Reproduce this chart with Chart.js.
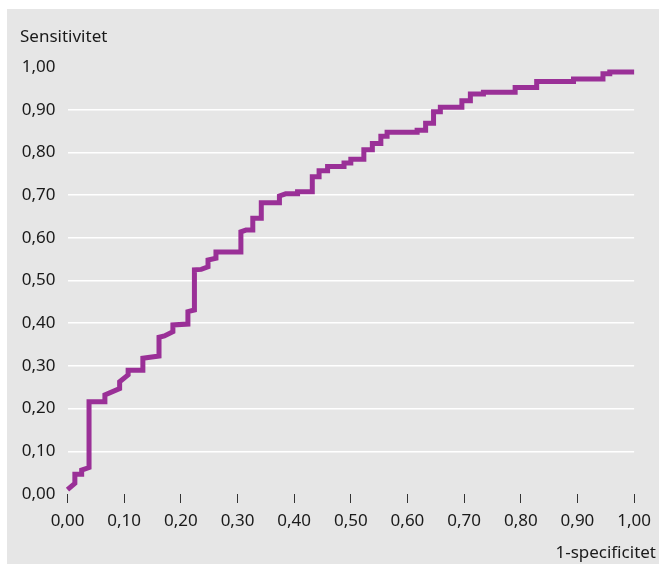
<!DOCTYPE html>
<html>
<head>
<meta charset="utf-8">
<script src="https://cdn.jsdelivr.net/npm/chart.js@4/dist/chart.umd.min.js"></script>
<style>
html,body{margin:0;padding:0;background:#fff;}
canvas{display:block;}
</style>
</head>
<body>
<canvas id="c" width="659" height="564"></canvas>
<script>
// 1-specificitet (false positive rate) and sensitivitet (true positive rate)
const fpr = [0.000,0.013,0.013,0.025,0.025,0.038,0.038,0.066,0.066,0.092,0.092,0.107,0.107,0.133,0.133,0.1615,0.1615,0.171,0.186,0.186,0.2125,0.2125,0.224,0.224,0.236,0.248,0.248,0.262,0.262,0.306,0.306,0.315,0.327,0.327,0.342,0.342,0.374,0.374,0.385,0.406,0.406,0.432,0.432,0.444,0.444,0.459,0.459,0.488,0.488,0.500,0.500,0.523,0.523,0.538,0.538,0.553,0.553,0.564,0.564,0.617,0.617,0.632,0.632,0.646,0.646,0.658,0.658,0.696,0.696,0.711,0.711,0.734,0.734,0.790,0.790,0.828,0.828,0.893,0.893,0.945,0.945,0.957,0.957,1.000];
const tpr = [0.010,0.025,0.046,0.046,0.056,0.062,0.216,0.216,0.232,0.247,0.263,0.279,0.290,0.290,0.318,0.323,0.367,0.370,0.380,0.396,0.398,0.427,0.431,0.525,0.526,0.532,0.548,0.552,0.567,0.567,0.614,0.618,0.618,0.646,0.646,0.682,0.682,0.698,0.703,0.703,0.708,0.708,0.743,0.743,0.757,0.757,0.767,0.767,0.775,0.775,0.784,0.784,0.806,0.806,0.821,0.821,0.838,0.838,0.847,0.847,0.852,0.852,0.868,0.868,0.895,0.895,0.906,0.906,0.921,0.921,0.937,0.937,0.941,0.941,0.952,0.952,0.966,0.966,0.972,0.972,0.984,0.984,0.988,0.988];
const yTitle = 'Sensitivitet';
const xTitle = '1-specificitet';
const axisMin = 0, axisMax = 1, axisStep = 0.1;

const points = fpr.map((x, i) => ({x: x, y: tpr[i]}));
const FONT = '"Noto Sans", sans-serif';
const fmt = v => Number(v).toFixed(2).replace('.', ',');

const bgPlugin = {
  id: 'bg',
  beforeDraw(chart) {
    const ctx = chart.ctx;
    ctx.save();
    ctx.fillStyle = '#e6e6e6';
    ctx.fillRect(7, 9, chart.width - 7, chart.height - 9);
    ctx.restore();
  },
  afterDraw(chart) {
    const ctx = chart.ctx;
    ctx.save();
    ctx.fillStyle = '#1a1a1a';
    ctx.font = '17px ' + FONT;
    ctx.textBaseline = 'alphabetic';
    ctx.textAlign = 'left';
    ctx.fillText(yTitle, 20, 41.5);
    ctx.textAlign = 'right';
    ctx.fillText(xTitle, 656, 558);
    ctx.restore();
  }
};

new Chart(document.getElementById('c'), {
  type: 'scatter',
  data: {
    datasets: [{
      data: points,
      showLine: true,
      borderColor: '#9a3097',
      backgroundColor: '#9a3097',
      borderWidth: 5,
      pointRadius: 0,
      pointHoverRadius: 0,
      tension: 0,
      borderJoinStyle: 'miter',
      borderCapStyle: 'butt',
      clip: false
    }]
  },
  options: {
    responsive: false,
    animation: false,
    events: [],
    layout: {padding: {left: 0, top: 67, right: 23, bottom: 0}},
    plugins: {legend: {display: false}, tooltip: {enabled: false}},
    scales: {
      x: {
        type: 'linear',
        min: axisMin, max: axisMax,
        afterFit(s) { s.height = 70; },
        ticks: {stepSize: axisStep, callback: fmt, color: '#1a1a1a', font: {family: FONT, size: 17}, padding: 8, maxRotation: 0},
        grid: {drawOnChartArea: false, drawTicks: true, tickLength: 9, tickColor: '#333', tickWidth: 1},
        border: {display: false}
      },
      y: {
        type: 'linear',
        min: axisMin, max: axisMax,
        afterFit(s) { s.width = 67.5; },
        ticks: {stepSize: axisStep, callback: fmt, color: '#1a1a1a', font: {family: FONT, size: 17}, padding: 12},
        grid: {
          drawTicks: false,
          lineWidth: 1.5,
          color: c => (c.tick && c.tick.value > 0.001 && c.tick.value < 0.999) ? '#ffffff' : 'rgba(0,0,0,0)'
        },
        border: {display: false}
      }
    }
  },
  plugins: [bgPlugin]
});
</script>
</body>
</html>
